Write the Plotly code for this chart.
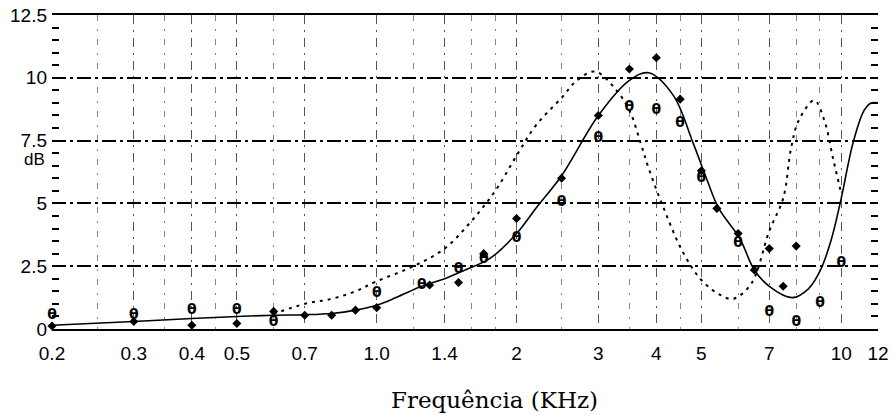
import numpy as np
import plotly.graph_objects as go

# Solid curve (fit of measurements)
solid_f = [0.2, 0.3, 0.4, 0.5, 0.6, 0.7, 0.8, 0.9, 1.0, 1.1, 1.25, 1.4, 1.55, 1.75, 2.0, 2.2, 2.5,
           3.0, 3.5, 3.85, 4.35, 4.8, 5.15, 5.45, 6.05, 6.5, 7.0, 7.85, 8.5, 9.0, 9.5, 10.0, 10.6, 11.2, 11.6, 12.0]
solid_db = [0.15, 0.3, 0.42, 0.5, 0.55, 0.57, 0.62, 0.75, 0.95, 1.25, 1.7, 2.0, 2.35, 2.8, 3.8, 4.8, 6.1,
            8.5, 9.9, 10.2, 9.3, 7.4, 5.9, 4.8, 3.6, 2.35, 1.7, 1.25, 1.6, 2.3, 3.5, 5.2, 7.4, 8.7, 9.0, 9.0]

# Dotted curve (model)
dot_f = [0.6, 0.7, 0.8, 0.9, 1.0, 1.2, 1.4, 1.6, 1.8, 2.0, 2.2, 2.5, 2.7, 2.95, 3.25, 3.5, 3.7, 3.85,
         4.15, 4.55, 5.0, 5.5, 5.85, 6.4, 7.0, 7.5, 7.8, 8.1, 8.75, 9.2, 9.6, 10.0]
dot_db = [0.6, 1.0, 1.2, 1.5, 1.9, 2.5, 3.2, 4.3, 5.5, 6.9, 8.1, 9.2, 9.9, 10.25, 9.6, 8.7, 7.4, 6.4,
          4.8, 3.1, 1.95, 1.35, 1.2, 1.8, 3.9, 5.2, 7.2, 8.3, 9.1, 8.3, 6.8, 5.4]

# Filled markers
fill_f = [0.2, 0.3, 0.4, 0.5, 0.6, 0.7, 0.8, 0.9, 1.0, 1.3, 1.5, 1.7, 2.0, 2.5, 3.0, 3.5, 4.0, 4.5,
          5.0, 5.4, 6.0, 6.5, 7.0, 7.5, 8.0]
fill_db = [0.12, 0.3, 0.15, 0.22, 0.7, 0.55, 0.55, 0.75, 0.85, 1.75, 1.85, 3.0, 4.4, 6.0, 8.5, 10.35, 10.8, 9.15,
           6.3, 4.8, 3.8, 2.35, 3.2, 1.7, 3.3]

# Theta markers
theta_f = [0.2, 0.3, 0.4, 0.5, 0.6, 1.0, 1.25, 1.5, 1.7, 2.0, 2.5, 3.0, 3.5, 4.0, 4.5, 5.0, 6.0,
           7.0, 8.0, 9.0, 10.0]
theta_db = [0.55, 0.55, 0.75, 0.75, 0.25, 1.4, 1.75, 2.35, 2.75, 3.6, 5.05, 7.6, 8.8, 8.7, 8.2, 6.0, 3.4,
            0.65, 0.25, 1.0, 2.6]

x_ticks = [0.2, 0.3, 0.4, 0.5, 0.7, 1.0, 1.4, 2, 3, 4, 5, 7, 10, 12]
x_ticktext = ["0.2", "0.3", "0.4", "0.5", "0.7", "1.0", "1.4", "2", "3", "4", "5", "7", "10", "12"]
x_minor = [0.25, 0.35, 0.45, 0.6, 1.2, 1.6, 1.8, 2.5, 3.5, 4.5, 6, 8, 9]
y_ticks = [0, 2.5, 5, 7.5, 10, 12.5]
y_ticktext = ["0", "2.5", "5", "7.5", "10", "12.5"]

fig = go.Figure()
fig.add_trace(go.Scatter(x=dot_f, y=dot_db, mode="lines", line=dict(color="black", width=2, dash="3px,5px", shape="spline"),
                         hoverinfo="skip"))
fig.add_trace(go.Scatter(x=solid_f, y=solid_db, mode="lines", line=dict(color="black", width=1.6, shape="spline"),
                         hoverinfo="skip"))
fig.add_trace(go.Scatter(x=fill_f, y=fill_db, mode="markers", marker=dict(symbol="diamond", size=7, color="black"),
                         cliponaxis=False))
fig.add_trace(go.Scatter(x=theta_f, y=theta_db, mode="text", text=["θ"] * len(theta_f), textposition="middle center",
                         textfont=dict(family="DejaVu Sans", size=14, color="black", weight="bold"), cliponaxis=False))

fig.update_layout(
    width=893, height=415,
    margin=dict(l=52, r=15, t=15, b=86),
    plot_bgcolor="white", paper_bgcolor="white",
    showlegend=False,
    xaxis=dict(type="log", range=[np.log10(0.2), np.log10(12)], automargin=False,
               tickmode="array", tickvals=x_ticks, ticktext=x_ticktext,
               tickfont=dict(family="Liberation Sans", size=19, color="black"),
               showgrid=True, gridcolor="#555", gridwidth=1, griddash="9px,6px,2px,6px",
               minor=dict(tickmode="array", tickvals=x_minor, showgrid=True, gridcolor="#888",
                          gridwidth=1, griddash="6px,8px,2px,8px"),
               showline=True, linecolor="black", linewidth=2, mirror=True,
               ticks="", zeroline=False, ticklabelstandoff=6),
    yaxis=dict(range=[0, 12.5], automargin=False, tickmode="array", tickvals=y_ticks, ticktext=y_ticktext,
               tickfont=dict(family="Liberation Sans", size=19, color="black"),
               showgrid=True, gridcolor="black", gridwidth=1.5, griddash="14px,4px,3px,4px",
               zeroline=False, showline=False, ticks="inside", ticklen=7, tickwidth=2, tickcolor="black",
               mirror="ticks",
               minor=dict(dtick=0.5, ticks="inside", ticklen=7, tickwidth=2, tickcolor="black"),
               ticklabelstandoff=4),
)
fig.add_annotation(text="dB", xref="paper", yref="paper", x=-0.036, y=0.54, showarrow=False,
                   font=dict(family="Liberation Sans", size=17, color="black"))
fig.add_annotation(text="Frequência (KHz)", xref="paper", yref="paper", x=0.536, y=-0.225, showarrow=False,
                   xanchor="center", yanchor="middle",
                   font=dict(family="DejaVu Serif", size=23, color="black"))
fig.write_html("out.html")
